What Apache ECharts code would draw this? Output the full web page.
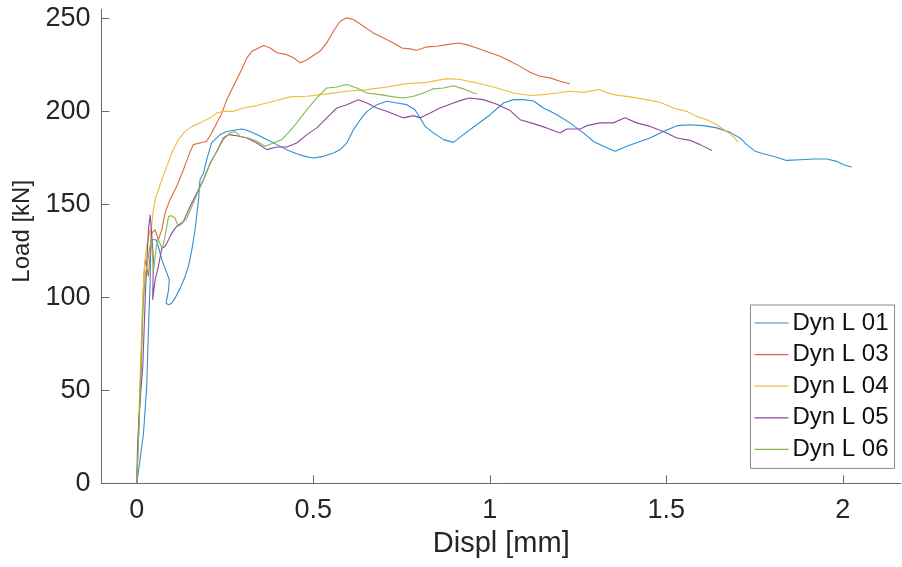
<!DOCTYPE html>
<html>
<head>
<meta charset="utf-8">
<script src="https://cdn.jsdelivr.net/npm/echarts@6/dist/echarts.min.js"></script>
<style>html,body{margin:0;padding:0;background:#fff;}#c{width:902px;height:567px;}</style>
</head>
<body>
<div id="c"></div>
<script>
var seriesNames = ['Dyn L 01', 'Dyn L 03', 'Dyn L 04', 'Dyn L 05', 'Dyn L 06'];
var xTicks = [0, 0.5, 1, 1.5, 2];
var yTicks = [0, 50, 100, 150, 200, 250];

var dynL01 = [[0,0],[0.009,12.5],[0.019,26.9],[0.028,52],[0.033,82.5],[0.038,109.5],[0.040,131],[0.045,132],[0.055,131],[0.061,127.4],[0.071,120.2],[0.085,113.1],[0.092,109.5],[0.090,104.1],[0.083,96.9],[0.090,96.0],[0.099,96.9],[0.108,99.6],[0.123,105],[0.137,111.3],[0.146,116.6],[0.156,125.6],[0.165,136.4],[0.175,152.6],[0.179,163.3],[0.189,166.9],[0.198,174.1],[0.212,183.1],[0.236,187.6],[0.255,189.3],[0.274,189.9],[0.297,190.6],[0.312,189.9],[0.340,187.6],[0.368,184.9],[0.397,182.2],[0.425,179.5],[0.453,177.3],[0.482,175.6],[0.500,175.0],[0.529,175.9],[0.557,177.7],[0.576,179.5],[0.595,183.1],[0.614,190.3],[0.633,195.6],[0.652,200.1],[0.680,203.7],[0.708,205.5],[0.737,204.6],[0.765,203.7],[0.788,201],[0.803,196.5],[0.817,192],[0.840,188.5],[0.869,184.9],[0.897,183.4],[0.925,187.6],[0.963,192.9],[1.001,198.3],[1.039,204.6],[1.067,206.4],[1.095,206.4],[1.124,205.7],[1.152,201.9],[1.171,200.1],[1.190,198.3],[1.227,193.9],[1.265,188.5],[1.294,183.9],[1.322,181.3],[1.355,178.6],[1.388,181.3],[1.426,183.9],[1.454,185.8],[1.492,189.3],[1.530,192.4],[1.567,192.9],[1.605,192.4],[1.643,191.2],[1.681,188.8],[1.709,185.8],[1.728,182.2],[1.752,178.6],[1.775,177.3],[1.803,175.9],[1.841,173.7],[1.879,174.1],[1.917,174.5],[1.955,174.5],[1.983,173.2],[2.002,171.4],[2.025,170.2]];

var dynL03 = [[0,0],[0.006,30],[0.012,60],[0.016,90],[0.02,112],[0.024,120.3],[0.028,121.2],[0.033,111.3],[0.038,123.9],[0.042,134.6],[0.052,136.4],[0.061,131.0],[0.071,136.4],[0.080,145.4],[0.094,152.6],[0.113,159.7],[0.132,168.7],[0.146,175.9],[0.160,182.2],[0.179,183.1],[0.198,184.0],[0.212,188.5],[0.227,193.9],[0.241,199.2],[0.255,206.4],[0.269,211.8],[0.283,217.2],[0.297,222.6],[0.312,228.9],[0.326,232.4],[0.340,233.7],[0.359,235.5],[0.378,234.2],[0.397,231.6],[0.425,230.6],[0.444,228.9],[0.463,226.2],[0.482,227.9],[0.500,230.1],[0.519,232.4],[0.538,236.9],[0.557,243.2],[0.576,248.6],[0.595,250.4],[0.614,249.5],[0.642,245.9],[0.670,242.3],[0.699,239.6],[0.727,236.9],[0.751,234.2],[0.774,233.7],[0.793,233.0],[0.822,234.8],[0.850,235.1],[0.878,236.0],[0.911,236.9],[0.935,236.0],[0.963,234.2],[1.001,231.6],[1.029,229.7],[1.058,227.0],[1.086,224.3],[1.115,221.0],[1.143,219.0],[1.171,218.1],[1.199,216.3],[1.227,214.9]];

var dynL04 = [[0,0],[0.004,25],[0.010,60],[0.016,95],[0.022,118],[0.028,128],[0.034,133],[0.038,137],[0.040,131],[0.042,138],[0.046,146],[0.052,152.6],[0.066,160.6],[0.085,170.5],[0.099,177.7],[0.118,184.9],[0.137,189.3],[0.156,192.0],[0.179,193.9],[0.208,196.6],[0.227,199.2],[0.245,200.1],[0.274,200.1],[0.302,201.9],[0.340,203.2],[0.387,205.5],[0.434,207.9],[0.482,208.2],[0.538,209.5],[0.595,210.9],[0.652,211.8],[0.708,213.2],[0.765,215.0],[0.822,215.7],[0.878,217.7],[0.916,217.2],[0.963,215.4],[1.010,213.2],[1.067,210.0],[1.114,208.6],[1.152,209.1],[1.190,210.0],[1.227,210.9],[1.265,210.3],[1.308,211.8],[1.350,209.1],[1.397,207.9],[1.445,206.4],[1.482,205.0],[1.520,201.9],[1.558,200.1],[1.586,197.4],[1.615,195.6],[1.643,192.9],[1.671,189.3],[1.690,186.6],[1.704,183.4]];

var dynL05 = [[0,0],[0.002,19.7],[0.007,37.7],[0.011,48.5],[0.017,62.8],[0.024,100.5],[0.028,116.6],[0.033,136.4],[0.038,144.5],[0.042,134.6],[0.047,120.2],[0.045,98.7],[0.052,109.5],[0.061,116.6],[0.071,126.5],[0.080,127.4],[0.090,131.0],[0.099,134.6],[0.113,138.2],[0.132,140.9],[0.151,148.9],[0.170,156.2],[0.189,163.3],[0.208,172.3],[0.227,178.6],[0.245,185.8],[0.260,187.6],[0.283,187.0],[0.312,185.8],[0.340,183.1],[0.368,179.5],[0.397,180.9],[0.425,180.9],[0.453,183.1],[0.482,187.6],[0.510,191.2],[0.538,196.6],[0.567,201.9],[0.595,203.7],[0.628,206.4],[0.652,204.6],[0.680,201.9],[0.708,200.1],[0.732,198.3],[0.755,196.6],[0.784,197.8],[0.803,196.6],[0.831,199.2],[0.859,201.9],[0.897,204.6],[0.925,206.4],[0.944,207.3],[0.982,206.4],[1.020,203.9],[1.058,200.5],[1.086,195.6],[1.124,193.5],[1.161,191.2],[1.199,188.5],[1.218,190.6],[1.256,190.6],[1.275,192.4],[1.312,193.9],[1.350,193.9],[1.383,196.6],[1.416,193.9],[1.454,192.0],[1.492,189.3],[1.530,185.8],[1.567,184.5],[1.596,182.2],[1.629,179.1]];

var dynL06 = [[0,0],[0.006,30],[0.012,65],[0.018,95],[0.024,112],[0.030,118],[0.036,126],[0.041,131],[0.045,122],[0.047,114],[0.051,120],[0.056,128],[0.061,131.0],[0.071,126.5],[0.075,128.3],[0.085,138.2],[0.090,143.6],[0.099,143.9],[0.108,142.7],[0.118,138.2],[0.127,139.6],[0.142,142.7],[0.156,148.9],[0.170,155.2],[0.189,163.3],[0.208,172.3],[0.227,178.6],[0.245,184.9],[0.264,188.5],[0.278,189.3],[0.293,186.6],[0.316,185.8],[0.340,184.0],[0.363,181.3],[0.387,183.1],[0.411,184.9],[0.429,188.5],[0.453,193.9],[0.482,201.0],[0.510,207.3],[0.538,212.7],[0.567,213.2],[0.595,214.5],[0.623,212.7],[0.652,210.0],[0.689,209.1],[0.727,207.9],[0.755,207.3],[0.784,208.2],[0.812,210.0],[0.840,212.2],[0.869,212.7],[0.897,213.9],[0.925,212.2],[0.954,210.0],[0.963,209.6]];

var seriesData = [dynL01, dynL03, dynL04, dynL05, dynL06];
var colors = ['#2f8fd4', '#dc6a3a', '#eebd3c', '#8e4a9c', '#86b84a'];
var FONT = '"Liberation Sans", Arial, Helvetica, sans-serif';
var AX = '#6a6a6a';
var TXT = '#262626';

var chart = echarts.init(document.getElementById('c'), null, {renderer: 'canvas'});
chart.setOption({
  animation: false,
  backgroundColor: '#ffffff',
  color: colors,
  textStyle: {fontFamily: FONT},
  grid: {left: 101.5, right: 1, top: 9.3, bottom: 83.7, containLabel: false, outerBoundsMode: 'none'},
  xAxis: {
    type: 'value', min: -0.1, max: 2.165,
    name: 'Displ [mm]', nameLocation: 'middle', nameGap: 37,
    nameTextStyle: {fontSize: 29, color: TXT, fontFamily: FONT},
    axisLine: {show: true, onZero: false, lineStyle: {color: AX, width: 1}},
    axisTick: {show: true, inside: true, length: 8, lineStyle: {color: AX}, customValues: xTicks},
    axisLabel: {fontSize: 27, color: TXT, margin: 14, fontFamily: FONT, customValues: xTicks,
      formatter: function (v) { return String(v); }},
    splitLine: {show: false}
  },
  yAxis: {
    type: 'value', min: 0, max: 255,
    name: 'Load [kN]', nameLocation: 'middle', nameGap: 66,
    nameTextStyle: {fontSize: 24, color: TXT, fontFamily: FONT, padding: [0, 0, 0, 30]},
    axisLine: {show: true, onZero: false, lineStyle: {color: AX, width: 1}},
    axisTick: {show: true, inside: true, length: 8, lineStyle: {color: AX}, customValues: yTicks},
    axisLabel: {fontSize: 27, color: TXT, margin: 11, fontFamily: FONT, customValues: yTicks},
    splitLine: {show: false}
  },
  legend: {
    orient: 'vertical', left: 750.5, top: 305,
    data: seriesNames,
    icon: 'rect',
    backgroundColor: '#ffffff', borderColor: '#8a8a8a', borderWidth: 1,
    padding: [6, 6, 7, 4],
    itemWidth: 34, itemHeight: 1.2, itemGap: 7.6,
    textStyle: {fontSize: 24, lineHeight: 24, color: '#111', fontFamily: FONT, padding: [0, 0, 0, -1]},
    selectedMode: false
  },
  series: seriesData.map(function (d, i) {
    return {
      name: seriesNames[i], type: 'line', data: d,
      symbol: 'none', showSymbol: false, smooth: false,
      lineStyle: {width: 1.1, color: colors[i]},
      itemStyle: {color: colors[i]},
      emphasis: {disabled: true}
    };
  })
});
</script>
</body>
</html>
